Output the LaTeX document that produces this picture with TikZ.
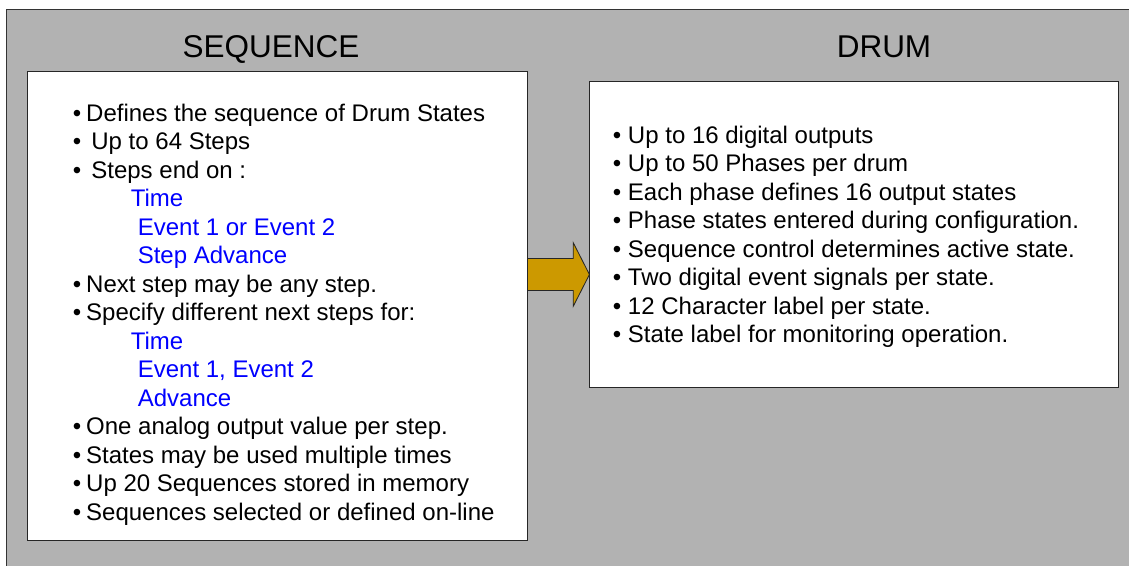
\documentclass[tikz,border=0pt]{standalone}
\usepackage{fontspec}
\setmainfont{Liberation Sans}
\usetikzlibrary{shapes.arrows}
\definecolor{panelgray}{HTML}{B2B2B2}
\definecolor{arrowgold}{HTML}{CC9900}
\tikzset{
	panel/.style={fill=panelgray,draw=black!80,line width=0.6pt},
	box/.style={rectangle,fill=white,draw=black!85,line width=0.6pt,inner sep=0pt},
	heading/.style={font=\fontsize{22.4pt}{26pt}\selectfont,inner sep=0pt},
	items/.style={align=left,inner sep=0pt,font=\fontsize{17.07pt}{20.27pt}\selectfont},
	link/.style={single arrow,draw=black!85,fill=arrowgold,line width=0.6pt,inner xsep=0pt,inner ysep=0.3875cm,
		minimum height=1.55cm,single arrow head extend=0.4cm,single arrow tip angle=126}
}
\newcommand{\bul}{•\hspace{0.12cm}}
\newcommand{\bulr}{•\hspace{0.17cm}}
\newcommand{\sub}[2]{\hspace*{#1}\textcolor{blue}{#2}}

\begin{document}
\begin{tikzpicture}[x=0.025cm,y=-0.025cm]
	\clip (0,0) rectangle (1129,565);
	\fill[white] (0,0) rectangle (1129,565);
	\filldraw[panel] (6,9) rectangle (1140,575);
	
	\node[heading,anchor=base] (seqtitle) at (271,57.3) {SEQUENCE};
	\node[heading,anchor=base] (drumtitle) at (884,57.3) {DRUM};
	
	\node[box,minimum width=12.5cm,minimum height=11.725cm] (seqbox) at (277,305.5) {};
	\node[box,minimum width=13.225cm,minimum height=7.65cm] (drumbox) at (853.5,234) {};
	
	\node[items,anchor=north west] (seqlist) at (72.7,103.5) {%
		\bul Defines the sequence of Drum States\\
		•\hspace{0.25cm}Up to 64 Steps\\
		•\hspace{0.25cm}Steps end on :\\
		\sub{1.445cm}{Time}\\
		\sub{1.62cm}{Event 1 or Event 2}\\
		\sub{1.62cm}{Step Advance}\\
		\bul Next step may be any step.\\
		\bul Specify different next steps for:\\
		\sub{1.445cm}{Time}\\
		\sub{1.62cm}{Event 1, Event 2}\\
		\sub{1.62cm}{Advance}\\
		\bul One analog output value per step.\\
		\bul States may be used multiple times\\
		\bul Up 20 Sequences stored in memory\\
		\bul Sequences selected or defined on-line};
	
	\node[items,anchor=north west] (drumlist) at (612.5,125.5) {%
		\bulr Up to 16 digital outputs\\
		\bulr Up to 50 Phases per drum\\
		\bulr Each phase defines 16 output states\\
		\bulr Phase states entered during configuration.\\
		\bulr Sequence control determines active state.\\
		\bulr Two digital event signals per state.\\
		\bulr 12 Character label per state.\\
		\bulr State label for monitoring operation.};
	
	\node[link,anchor=tail] (seq2drum) at (527,274.5) {};
\end{tikzpicture}
\end{document}
